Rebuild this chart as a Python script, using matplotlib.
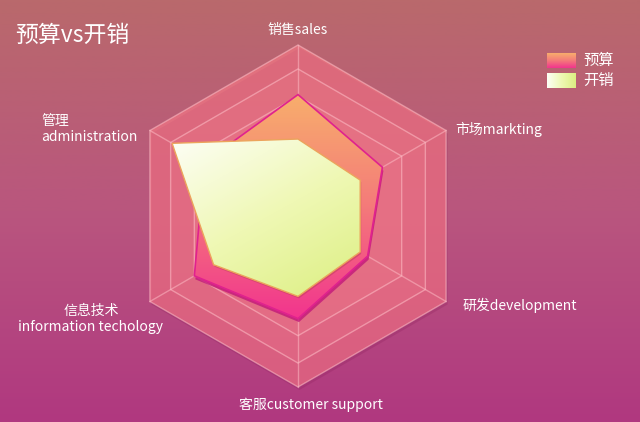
import numpy as np
import matplotlib
matplotlib.use('Agg')
import matplotlib.pyplot as plt
from matplotlib.patches import Polygon
from matplotlib.colors import LinearSegmentedColormap

plt.rcParams['font.family'] = ['Noto Sans CJK SC', 'DejaVu Sans']

# data (share of each indicator's max), order: counter-clockwise from top
indicators = ['销售sales', '管理\nadministration', '信息技术\ninformation techology',
              '客服customer support', '研发development', '市场markting']
budget = [0.71, 0.63, 0.70, 0.60, 0.47, 0.57]
spending = [0.45, 0.85, 0.57, 0.47, 0.42, 0.42]
series_names = ['预算', '开销']
title = '预算vs开销'
rings = [1.0, 0.86, 0.70]

# layout (pixels)
W, H = 640, 422
CX, CY, R = 298, 216, 171
label_pos = [(298, 30, 'center'), (41, 129, 'left'), (91, 319, 'center'),
             (311, 405, 'center'), (463, 305, 'left'), (455, 129, 'left')]

budget_cmap = LinearSegmentedColormap.from_list('b', ['#f8ae6c', '#f47a7a', '#f2348e'])
spend_cmap = LinearSegmentedColormap.from_list('s', ['#fdfef6', '#eff8b4', '#dcef82'])
bg_cmap = LinearSegmentedColormap.from_list('bg', ['#b9696c', '#b9567e', '#b03880'])


def to_xy(values):
    ang = np.deg2rad(90 + 60 * np.arange(len(values)))
    v = np.asarray(values)
    return np.column_stack([CX + v * R * np.cos(ang), CY - v * R * np.sin(ang)])


def gradient_patch(ax, xy, cmap, mode, zorder, **kw):
    poly = Polygon(xy, closed=True, facecolor='none', edgecolor='none')
    ax.add_patch(poly)
    x0, y0 = xy.min(axis=0)
    x1, y1 = xy.max(axis=0)
    g = np.linspace(0, 1, 200)
    if mode == 'v':
        data = np.tile(g[:, None], (1, 200))
    elif mode == 'h':
        data = np.tile(g[None, :], (200, 1))
    else:
        data = (g[:, None] * 0.6 + g[None, :] * 0.4)
    im = ax.imshow(data, cmap=cmap, extent=(x0, x1, y1, y0), aspect='auto',
                   zorder=zorder, interpolation='bilinear')
    im.set_clip_path(poly)
    if kw:
        ax.add_patch(Polygon(xy, closed=True, facecolor='none', zorder=zorder + 0.1, **kw))


fig = plt.figure(figsize=(6.4, 4.22), dpi=100)
ax = fig.add_axes([0, 0, 1, 1])
ax.set_autoscale_on(False)
ax.set_xlim(0, W)
ax.set_ylim(H, 0)
ax.axis('off')

# background
ax.imshow(np.linspace(0, 1, 300)[:, None], cmap=bg_cmap, extent=(0, W, H, 0),
          aspect='auto', zorder=0)

# radar grid
n = len(indicators)
outer = to_xy([1.0] * n)
ax.add_patch(Polygon(outer + [1.5, 3], closed=True, facecolor='#8a1e5a', alpha=0.25,
                     edgecolor='none', zorder=1))
ax.add_patch(Polygon(outer, closed=True, facecolor='#ff7c88', alpha=0.58,
                     edgecolor='none', zorder=1.1))
for i, r in enumerate(rings):
    ring = to_xy([r] * n)
    if i:
        ax.add_patch(Polygon(ring, closed=True, facecolor='#ff8c96', alpha=0.15,
                             edgecolor='none', zorder=1.2))
    ax.add_patch(Polygon(ring, closed=True, facecolor='none', edgecolor='#ffc0c8',
                         alpha=0.55, linewidth=1, zorder=1.3))
for px, py in outer:
    ax.plot([CX, px], [CY, py], color='#ffc0c8', alpha=0.5, linewidth=1, zorder=1.3)

# series
bxy = to_xy(budget)
ax.add_patch(Polygon(bxy + [1, 3.5], closed=True, facecolor='#c0127a', alpha=0.75,
                     edgecolor='none', zorder=2))
gradient_patch(ax, bxy, budget_cmap, 'v', 2.2, edgecolor='#e0228e', linewidth=1.2)

sxy = to_xy(spending)
ax.add_patch(Polygon(sxy + [1, 2], closed=True, facecolor='#b83a55', alpha=0.45,
                     edgecolor='none', zorder=3))
gradient_patch(ax, sxy, spend_cmap, 'd', 3.2, edgecolor='#eca45c', linewidth=1)

# labels
for lab, (x, y, ha) in zip(indicators, label_pos):
    ax.text(x, y, lab, color='white', fontsize=10, ha=ha, va='center',
            linespacing=1.15, zorder=5)

ax.text(15, 35, title, color='white', fontsize=16.5, ha='left', va='center', zorder=5)

# legend
leg_boxes = [(547, 53), (547, 73)]
for (lx, ly), name, cmap, mode in zip(leg_boxes, series_names,
                                       [budget_cmap, spend_cmap], ['v', 'h']):
    box = np.array([[lx, ly], [lx + 29, ly], [lx + 29, ly + 15], [lx, ly + 15]])
    gradient_patch(ax, box, cmap, mode, 5)
    ax.text(lx + 36, ly + 7.5, name, color='white', fontsize=11, ha='left',
            va='center', zorder=5)

fig.savefig('out.png', dpi=100)
